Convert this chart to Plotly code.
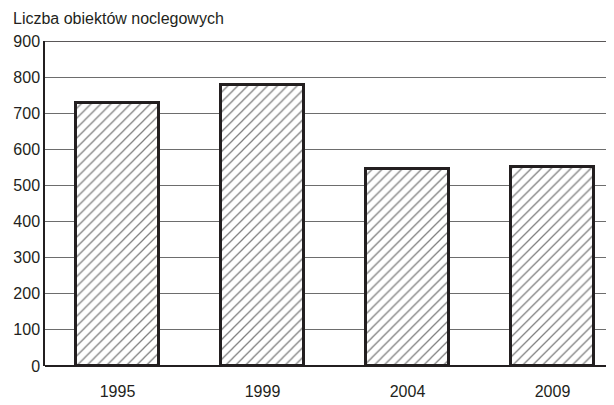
import plotly.graph_objects as go

years = ['1995', '1999', '2004', '2009']
objects = [727, 777, 545, 551]
y_ticks = [0, 100, 200, 300, 400, 500, 600, 700, 800, 900]

FONT = 'Liberation Sans, Arial, sans-serif'
DARK = '#231f20'

fig = go.Figure()
fig.add_trace(go.Bar(
    x=list(range(len(years))),
    y=objects,
    width=0.57,
    marker=dict(
        color='white',
        line=dict(color=DARK, width=3),
        pattern=dict(shape='/', size=7, solidity=0.18,
                     fgcolor='#000000', bgcolor='white'),
    ),
    showlegend=False,
))

# top border line at 900
fig.add_shape(type='line', xref='paper', yref='y', x0=0, x1=1, y0=900, y1=900,
              line=dict(color=DARK, width=1.5))

# page has an 8px body margin, so the figure is a bit smaller than the window
fig.update_layout(
    width=606, height=397,
    margin=dict(l=37, r=0, t=33, b=39, autoexpand=False),
    plot_bgcolor='white', paper_bgcolor='white',
    font=dict(family=FONT, size=16, color=DARK),
    bargap=0,
    annotations=[dict(
        text='Liczba obiektów noclegowych', xref='paper', yref='paper',
        x=-34 / 569, y=1, yshift=33, xanchor='left', yanchor='top',
        showarrow=False, font=dict(family=FONT, size=16, color=DARK),
    )],
)

fig.update_xaxes(
    range=[-0.5, 3.424], automargin=False,
    tickvals=list(range(len(years))), ticktext=years,
    showgrid=False, zeroline=False, showline=False,
    ticks='', ticklabelstandoff=14,
    tickfont=dict(family=FONT, size=16, color=DARK),
)
fig.update_yaxes(
    range=[0, 900], tickvals=y_ticks, automargin=False,
    showgrid=True, gridcolor='#6d6d6d', gridwidth=1,
    zeroline=True, zerolinecolor=DARK, zerolinewidth=2,
    showline=True, linecolor=DARK, linewidth=1.5,
    ticks='', ticklabelstandoff=0,
    tickfont=dict(family=FONT, size=16, color=DARK),
)

fig.write_html('out.html')
